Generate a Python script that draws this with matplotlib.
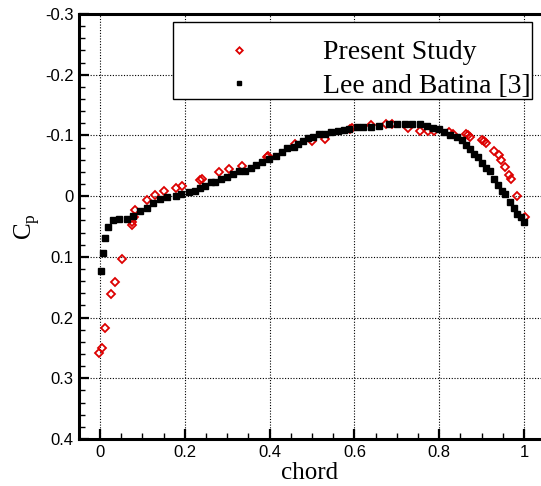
import matplotlib
matplotlib.use('Agg')
import matplotlib.pyplot as plt
from matplotlib.ticker import MultipleLocator
from matplotlib.patches import Rectangle

# Lee and Batina [3] (black squares)
lee_x = [0.002, 0.007, 0.012, 0.020, 0.031, 0.045, 0.064, 0.078, 0.094, 0.111,
         0.126, 0.142, 0.158, 0.179, 0.190, 0.209, 0.224, 0.235, 0.248, 0.261,
         0.271, 0.286, 0.300, 0.314, 0.328, 0.342, 0.356, 0.369, 0.382, 0.399,
         0.414, 0.430, 0.441, 0.458, 0.467, 0.478, 0.491, 0.503, 0.517, 0.531,
         0.545, 0.562, 0.576, 0.588, 0.607, 0.621, 0.640, 0.658, 0.682, 0.701,
         0.720, 0.737, 0.755, 0.772, 0.786, 0.800, 0.812, 0.826, 0.843, 0.854,
         0.864, 0.873, 0.883, 0.892, 0.902, 0.911, 0.920, 0.930, 0.939, 0.949,
         0.956, 0.968, 0.977, 0.984, 0.994, 1.001]
lee_cp = [0.124, 0.094, 0.069, 0.050, 0.040, 0.037, 0.038, 0.032, 0.024, 0.019,
          0.012, 0.005, 0.002, -0.001, -0.004, -0.006, -0.009, -0.014, -0.016, -0.023,
          -0.024, -0.029, -0.032, -0.036, -0.041, -0.042, -0.046, -0.052, -0.056, -0.061,
          -0.066, -0.072, -0.079, -0.081, -0.086, -0.090, -0.096, -0.097, -0.102, -0.102,
          -0.105, -0.107, -0.109, -0.110, -0.114, -0.114, -0.114, -0.115, -0.118, -0.118,
          -0.118, -0.118, -0.118, -0.116, -0.113, -0.110, -0.105, -0.100, -0.097, -0.092,
          -0.085, -0.077, -0.069, -0.064, -0.054, -0.047, -0.041, -0.028, -0.018, -0.009,
          -0.003, 0.010, 0.020, 0.029, 0.035, 0.042]

# Present Study (red open diamonds)
present_x = [-0.001, 0.004, 0.012, 0.025, 0.036, 0.051, 0.075, 0.076, 0.080, 0.083,
             0.112, 0.129, 0.151, 0.180, 0.194, 0.235, 0.241, 0.281, 0.304, 0.334,
             0.393, 0.397, 0.460, 0.500, 0.531, 0.589, 0.594, 0.640, 0.675, 0.688,
             0.726, 0.755, 0.774, 0.788, 0.824, 0.833, 0.864, 0.869, 0.873, 0.902,
             0.906, 0.911, 0.930, 0.942, 0.946, 0.956, 0.965, 0.970, 0.984, 1.003]
present_cp = [0.259, 0.250, 0.217, 0.161, 0.141, 0.103, 0.048, 0.042, 0.035, 0.023,
              0.007, -0.002, -0.009, -0.014, -0.016, -0.026, -0.029, -0.040, -0.044, -0.049,
              -0.065, -0.066, -0.086, -0.090, -0.094, -0.110, -0.112, -0.117, -0.118, -0.119,
              -0.112, -0.108, -0.107, -0.107, -0.105, -0.103, -0.102, -0.100, -0.098, -0.093,
              -0.090, -0.087, -0.075, -0.067, -0.060, -0.048, -0.034, -0.029, 0.000, 0.035]

plt.rcParams['font.family'] = ['Liberation Sans', 'DejaVu Sans']
plt.rcParams['mathtext.fontset'] = 'custom'
plt.rcParams['mathtext.rm'] = 'Liberation Serif'

fig = plt.figure(figsize=(5.41, 4.86), dpi=100)
ax = fig.add_axes([0.1455, 0.0967, 0.8545, 0.8745])

ax.plot(present_x, present_cp, linestyle='none', marker='D', markersize=4.4,
        markerfacecolor='none', markeredgecolor='#dd0000', markeredgewidth=1.3,
        label='Present Study', zorder=3)
ax.plot(lee_x, lee_cp, linestyle='none', marker='s', markersize=4.6,
        color='black', label='Lee and Batina [3]', zorder=4)

ax.set_xlim(-0.05, 1.04)
ax.set_ylim(0.4, -0.3)

ax.xaxis.set_minor_locator(MultipleLocator(0.05))
ax.yaxis.set_minor_locator(MultipleLocator(0.02))
ax.set_xticks([0, 0.2, 0.4, 0.6, 0.8, 1.0])
ax.set_xticklabels(['0', '0.2', '0.4', '0.6', '0.8', '1'])
ax.set_yticks([-0.3, -0.2, -0.1, 0, 0.1, 0.2, 0.3, 0.4])
ax.set_yticklabels(['-0.3', '-0.2', '-0.1', '0', '0.1', '0.2', '0.3', '0.4'])

ax.tick_params(which='major', direction='in', length=7, width=1.6, labelsize=12,
               top=False, right=False)
ax.tick_params(which='minor', direction='in', length=4, width=1.0, top=False, right=False)
ax.tick_params(axis='x', pad=4)

ax.grid(True, which='major', color='black', linestyle=(0, (1, 1.5)), linewidth=0.8)
ax.set_axisbelow(True)

for side in ['left', 'bottom', 'top']:
    ax.spines[side].set_linewidth(2.2)
ax.spines['right'].set_visible(False)

ax.set_xlabel('chord', fontfamily='Liberation Serif', fontsize=18, labelpad=2)
ax.set_ylabel(r'C$_\mathregular{p}$', fontfamily='Liberation Serif', fontsize=18, labelpad=2)

# legend box drawn separately, legend entries placed inside it
box = Rectangle((173 / 541, 1 - 99 / 486), 359 / 541, 77 / 486, transform=fig.transFigure,
                facecolor='white', edgecolor='black', linewidth=1.0, zorder=5)
ax.add_patch(box)
box.set_clip_on(False)

leg = ax.legend(loc='upper left', bbox_to_anchor=(190 / 541, 1 - 40 / 486),
                bbox_transform=fig.transFigure,
                prop={'family': 'Liberation Serif', 'size': 20},
                frameon=False, borderpad=0, labelspacing=0.30, handlelength=3.53,
                handletextpad=1.26, markerscale=0.75, borderaxespad=0)
leg.set_zorder(6)

fig.savefig('out.png', dpi=100)
